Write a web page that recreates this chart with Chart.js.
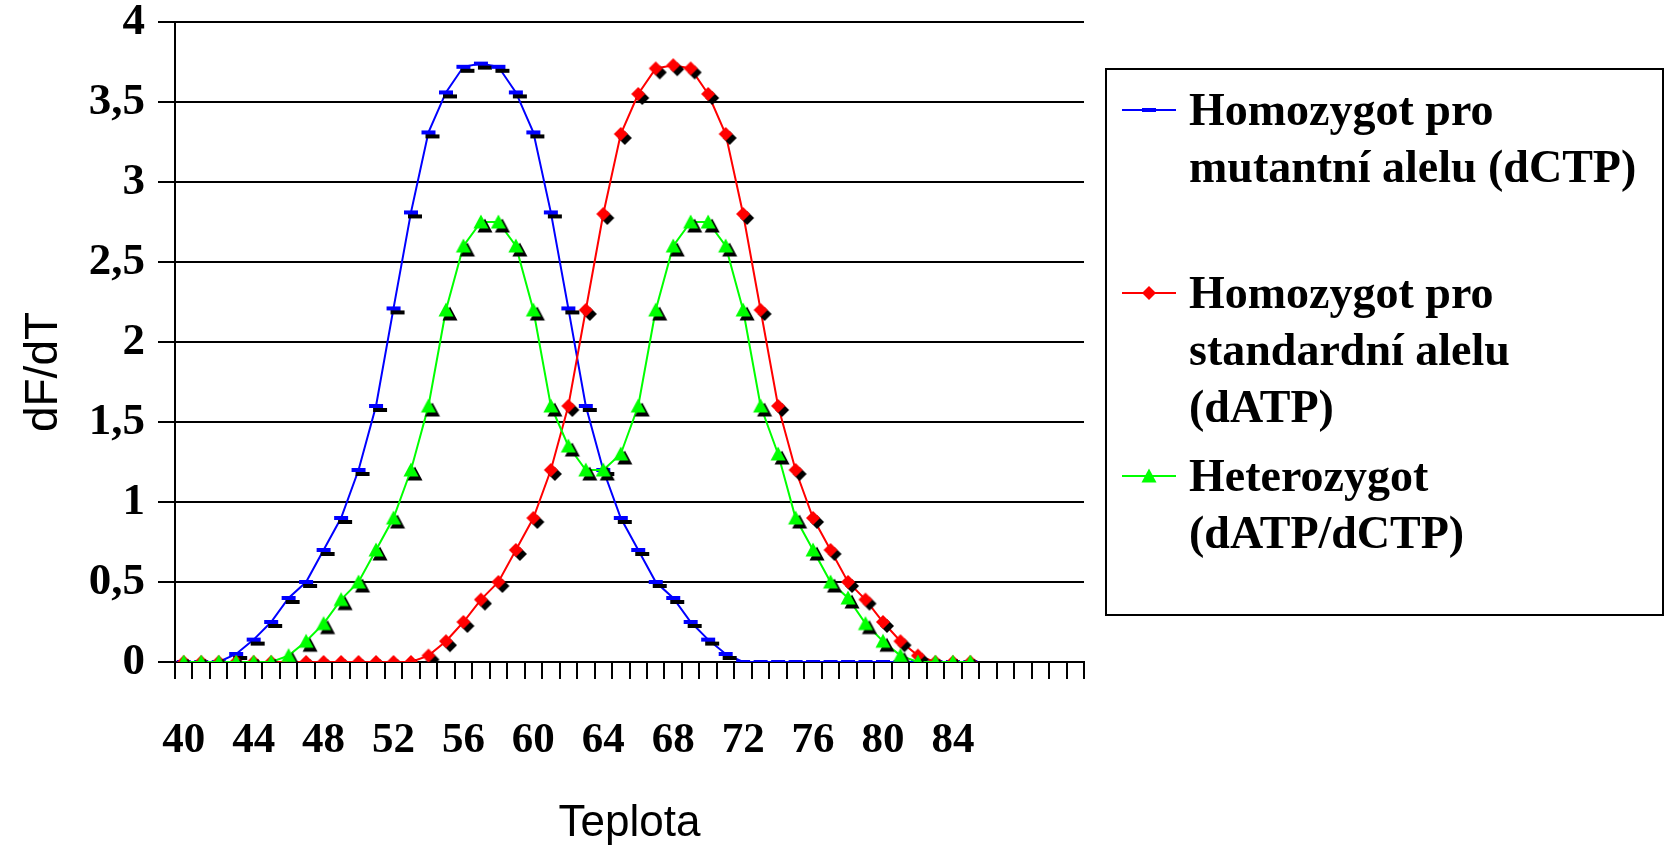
<!DOCTYPE html>
<html>
<head>
<meta charset="utf-8">
<script src="https://cdn.jsdelivr.net/npm/chart.js@4.4.1/dist/chart.umd.min.js"></script>
<style>
  body { margin: 0; background: #fff; }
  #wrap { width: 1668px; height: 850px; }
</style>
</head>
<body>
<div id="wrap"><canvas id="myChart" width="1668" height="850"></canvas></div>
<script>
// teploty (kategorie), posledních 6 kategorií je prázdných
var teploty = [40, 41, 42, 43, 44, 45, 46, 47, 48, 49, 50, 51, 52, 53, 54, 55, 56, 57, 58, 59, 60, 61, 62,
    63, 64, 65, 66, 67, 68, 69, 70, 71, 72, 73, 74, 75, 76, 77, 78, 79, 80, 81, 82, 83, 84, 85,
    '', '', '', '', '', ''];

var mutantni = [0, 0, 0, 0.05, 0.14, 0.25, 0.4, 0.5, 0.7, 0.9, 1.2, 1.6, 2.21, 2.81, 3.31, 3.56, 3.72, 3.74,
    3.72, 3.56, 3.31, 2.81, 2.21, 1.6, 1.2, 0.9, 0.7, 0.5, 0.4, 0.25, 0.14, 0.05,
    0, 0, 0, 0, 0, 0, 0, 0, 0, 0, 0, 0, 0, 0];

var standardni = [0, 0, 0, 0, 0, 0, 0, 0, 0, 0, 0, 0, 0, 0, 0.04, 0.13, 0.25, 0.39, 0.5, 0.7, 0.9, 1.2,
    1.6, 2.2, 2.8, 3.3, 3.55, 3.71, 3.73, 3.71, 3.55, 3.3, 2.8, 2.2, 1.6, 1.2, 0.9, 0.7, 0.5, 0.39,
    0.25, 0.13, 0.04, 0, 0, 0];

var heterozygot = [0, 0, 0, 0, 0, 0, 0.04, 0.13, 0.24, 0.39, 0.5, 0.7, 0.9, 1.2, 1.6, 2.2, 2.6, 2.75,
    2.75, 2.6, 2.2, 1.6, 1.35, 1.2, 1.2, 1.3, 1.6, 2.2, 2.6, 2.75, 2.75, 2.6, 2.2, 1.6, 1.3, 0.9,
    0.7, 0.5, 0.4, 0.24, 0.13, 0.04, 0, 0, 0, 0];

var nazvy = [
    ['Homozygot pro', 'mutantní alelu (dCTP)'],
    ['Homozygot pro', 'standardní alelu', '(dATP)'],
    ['Heterozygot', '(dATP/dCTP)']
];
var barvy = ['#0000FF', '#FF0000', '#00FF00'];
var tvary = ['dash', 'diamond', 'triangle'];

var serif = '"Liberation Serif", "Times New Roman", serif';
var sans = '"Liberation Sans", Arial, sans-serif';

function drawShape(ctx, kind, color, x, y) {
    ctx.fillStyle = color;
    ctx.beginPath();
    if (kind === 'dash') {
        ctx.rect(x - 7, y - 2, 14, 4);
    } else if (kind === 'diamond') {
        ctx.moveTo(x, y - 7);
        ctx.lineTo(x + 7, y);
        ctx.lineTo(x, y + 7);
        ctx.lineTo(x - 7, y);
    } else {
        ctx.moveTo(x, y - 7.5);
        ctx.lineTo(x + 7.5, y + 6.5);
        ctx.lineTo(x - 7.5, y + 6.5);
    }
    ctx.closePath();
    ctx.fill();
}

// značka s černým stínem vpravo dole
function makeMarker(kind, color) {
    var c = document.createElement('canvas');
    c.width = 30;
    c.height = 30;
    var g = c.getContext('2d');
    drawShape(g, kind, '#000', 19, 19);
    drawShape(g, kind, color, 15, 15);
    return c;
}

var legendPlugin = {
    id: 'boxLegend',
    afterDraw: function(chart) {
        var ctx = chart.ctx;
        ctx.save();

        // popisek osy y
        ctx.translate(44, 372);
        ctx.rotate(-Math.PI / 2);
        ctx.fillStyle = '#000';
        ctx.font = '46px ' + sans;
        ctx.textAlign = 'center';
        ctx.textBaseline = 'middle';
        ctx.fillText('dF/dT', 0, 0);
        ctx.setTransform(1, 0, 0, 1, 0, 0);

        ctx.strokeStyle = '#000';
        ctx.lineWidth = 2;
        ctx.strokeRect(1106, 69, 557, 546);
        for (var i = 0; i < nazvy.length; i++) {
            var base = 125 + i * 183;
            var sy = base - 15;
            ctx.strokeStyle = barvy[i];
            ctx.lineWidth = 2;
            ctx.beginPath();
            ctx.moveTo(1122, sy);
            ctx.lineTo(1176, sy);
            ctx.stroke();
            drawShape(ctx, tvary[i], barvy[i], 1149, sy);
            ctx.fillStyle = '#000';
            ctx.font = 'bold 46px ' + serif;
            ctx.textBaseline = 'alphabetic';
            ctx.textAlign = 'left';
            for (var j = 0; j < nazvy[i].length; j++) {
                ctx.fillText(nazvy[i][j], 1189, base + j * 57);
            }
        }
        ctx.restore();
    }
};

function serie(i, data, order) {
    return {
        label: nazvy[i].join(' '),
        data: data,
        borderColor: barvy[i],
        backgroundColor: barvy[i],
        borderWidth: 2,
        tension: 0,
        pointStyle: makeMarker(tvary[i], barvy[i]),
        pointRadius: 8,
        pointHoverRadius: 8,
        order: order
    };
}

var ctx = document.getElementById('myChart').getContext('2d');
var myChart = new Chart(ctx, {
    type: 'line',
    data: {
        labels: teploty,
        datasets: [
            serie(0, mutantni, 2),
            serie(1, standardni, 1),
            serie(2, heterozygot, 0)
        ]
    },
    options: {
        responsive: false,
        animation: false,
        layout: { padding: { top: 22, right: 584, bottom: 0, left: 0 } },
        plugins: {
            legend: { display: false },
            tooltip: { enabled: false }
        },
        scales: {
            x: {
                offset: true,
                grid: { offset: true, drawOnChartArea: false, drawTicks: true, tickLength: 17, color: '#000', lineWidth: 2 },
                border: { color: '#000', width: 2 },
                ticks: {
                    autoSkip: false,
                    maxRotation: 0,
                    padding: 36,
                    color: '#000',
                    font: { family: serif, size: 43, weight: 'bold' },
                    callback: function(v, i) {
                        var t = teploty[i];
                        return (i % 4 === 0 && t !== '') ? String(t) : '';
                    }
                },
                title: {
                    display: true,
                    text: 'Teplota',
                    color: '#000',
                    padding: 0,
                    font: { family: sans, size: 44 }
                },
                afterFit: function(s) { s.height = 188; }
            },
            y: {
                min: 0,
                max: 4,
                grid: { color: '#000', lineWidth: 2, tickLength: 17 },
                border: { color: '#000', width: 2 },
                ticks: {
                    stepSize: 0.5,
                    padding: 13,
                    color: '#000',
                    font: { family: serif, size: 45, weight: 'bold', lineHeight: 1 },
                    callback: function(v) { return String(v).replace('.', ','); }
                },
                afterFit: function(s) {
                    s.width = 175;
                    s.paddingTop = 0;
                    s.paddingBottom = 0;
                }
            }
        }
    },
    plugins: [legendPlugin]
});
</script>
</body>
</html>
